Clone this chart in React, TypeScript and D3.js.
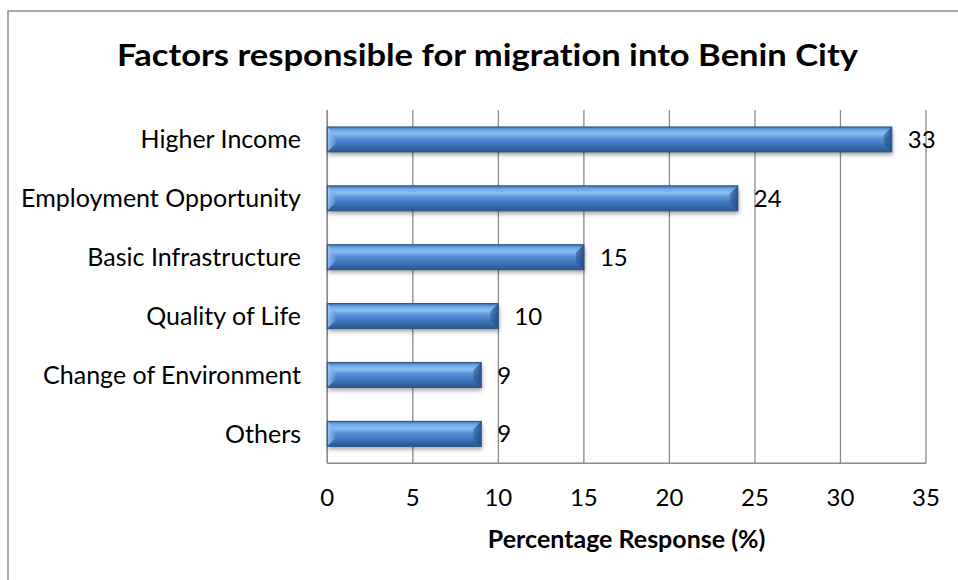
import * as d3 from "d3";
import * as React from "react";

const categories = [
  "Higher Income",
  "Employment Opportunity",
  "Basic Infrastructure",
  "Quality of Life",
  "Change of Environment",
  "Others",
];
const responses = [33, 24, 15, 10, 9, 9];
const xTicks = [0, 5, 10, 15, 20, 25, 30, 35];

const title = "Factors responsible for migration into Benin City";
const xTitle = "Percentage Response (%)";

const W = 958;
const H = 580;
const FONT = "Lato, 'Liberation Sans', sans-serif";
const GRID = "#8a8a8a";
const noLig = { fontVariantLigatures: "none" as const };

export default function App() {
  const margin = { top: 110, right: 32, bottom: 116.7, left: 327.3 };

  const x = d3
    .scaleLinear()
    .domain([0, 35])
    .range([margin.left, W - margin.right]);
  const y = d3
    .scaleBand()
    .domain(categories)
    .range([margin.top, H - margin.bottom])
    .paddingInner(0.575)
    .paddingOuter(0.2875);

  const bh = y.bandwidth();
  const bev = 8;
  const [y0, y1] = y.range();

  return (
    <div style={{ position: "fixed", left: 0, top: 0 }}>
      <svg width={W} height={H} style={{ display: "block", background: "#fff" }}>
        <defs>
          <linearGradient id="barGrad" x1="0" y1="0" x2="0" y2="1">
            <stop offset="0" stopColor="#3a70b6" />
            <stop offset="0.12" stopColor="#6ea6e6" />
            <stop offset="0.28" stopColor="#8bbff3" />
            <stop offset="0.45" stopColor="#5793d8" />
            <stop offset="0.7" stopColor="#3f76bc" />
            <stop offset="1" stopColor="#2a588f" />
          </linearGradient>
          <linearGradient id="capL" x1="0" y1="0" x2="1" y2="0">
            <stop offset="0" stopColor="#9fcaf4" stopOpacity="0.9" />
            <stop offset="1" stopColor="#6fa4e2" stopOpacity="0.5" />
          </linearGradient>
          <linearGradient id="capR" x1="0" y1="0" x2="1" y2="0">
            <stop offset="0" stopColor="#2f5f9c" stopOpacity="0.6" />
            <stop offset="1" stopColor="#244f86" stopOpacity="0.95" />
          </linearGradient>
          <filter id="shadow" x="-10%" y="-50%" width="120%" height="220%">
            <feDropShadow dx="1" dy="3" stdDeviation="2.2" floodColor="#000" floodOpacity="0.35" />
          </filter>
        </defs>

        {/* chart frame, runs off the right and bottom edges */}
        <rect x={8} y={11} width={980} height={600} fill="none" stroke="#8c8c8c" strokeWidth={1.5} />

        <text
          x={487.5}
          y={66}
          textAnchor="middle"
          fontFamily={FONT}
          fontWeight="bold"
          fontSize={31}
          textLength={741}
          lengthAdjust="spacingAndGlyphs"
          fill="#000"
          style={noLig}
        >
          {title}
        </text>

        {/* vertical gridlines */}
        {xTicks.map((t) => (
          <line key={t} x1={x(t)} x2={x(t)} y1={y0} y2={y1} stroke={GRID} strokeWidth={1.3} />
        ))}
        {/* axes */}
        <line x1={x(0)} x2={x(0)} y1={y0} y2={y1} stroke={GRID} strokeWidth={1.5} />
        <line x1={x(0)} x2={x(35)} y1={y1} y2={y1} stroke={GRID} strokeWidth={1.5} />

        {/* bars */}
        {categories.map((c, i) => {
          const bx = x(0);
          const by = y(c)!;
          const ex = x(responses[i]);
          const bw = ex - bx;
          return (
            <g key={c}>
              <rect x={bx} y={by} width={bw} height={bh} fill="url(#barGrad)" filter="url(#shadow)" />
              <polygon
                points={`${bx},${by} ${bx + bev},${by + bev} ${bx + bev},${by + bh - bev} ${bx},${by + bh}`}
                fill="url(#capL)"
              />
              <polygon
                points={`${ex},${by} ${ex - bev},${by + bev} ${ex - bev},${by + bh - bev} ${ex},${by + bh}`}
                fill="url(#capR)"
              />
              <rect x={bx} y={by} width={bw} height={bh} fill="none" stroke="#2a5486" strokeWidth={1} />
              <text
                x={ex + 16}
                y={by + bh / 2}
                dy="0.36em"
                fontFamily={FONT}
                fontSize={24}
                fill="#000"
              >
                {responses[i]}
              </text>
            </g>
          );
        })}

        {/* category labels */}
        {categories.map((c) => (
          <text
            key={c}
            x={301}
            y={y(c)! + bh / 2}
            dy="0.36em"
            textAnchor="end"
            fontFamily={FONT}
            fontSize={25}
            fill="#000"
            style={noLig}
          >
            {c}
          </text>
        ))}

        {/* x tick labels */}
        {xTicks.map((t) => (
          <text
            key={t}
            x={x(t)}
            y={506}
            textAnchor="middle"
            fontFamily={FONT}
            fontSize={24}
            fill="#000"
          >
            {t}
          </text>
        ))}

        <text
          x={(x(0) + x(35)) / 2}
          y={548}
          textAnchor="middle"
          fontFamily={FONT}
          fontWeight="bold"
          fontSize={25}
          fill="#000"
          style={noLig}
        >
          {xTitle}
        </text>
      </svg>
    </div>
  );
}
